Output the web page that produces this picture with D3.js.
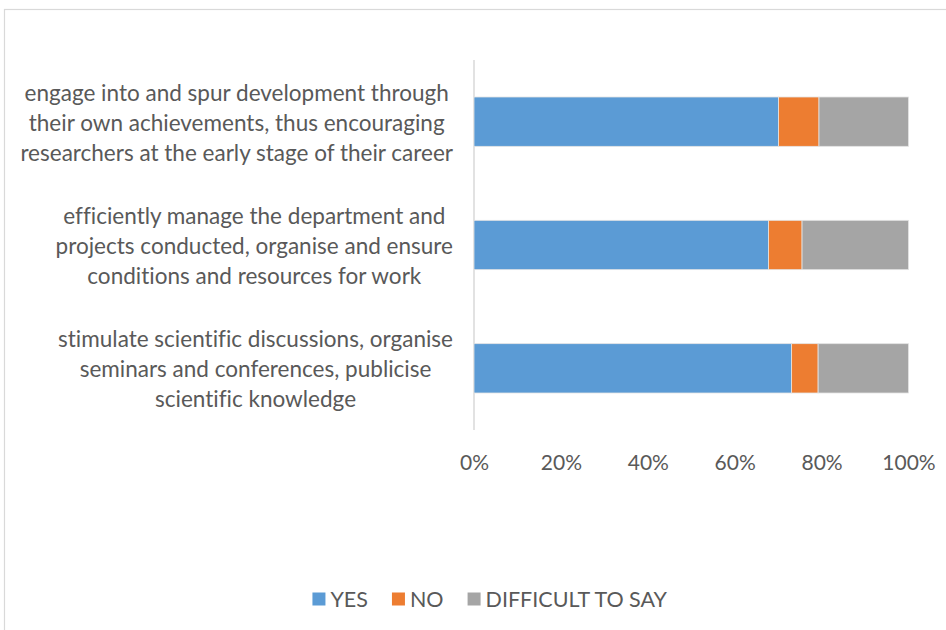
<!DOCTYPE html>
<html>
<head>
<meta charset="utf-8">
<script src="https://cdn.jsdelivr.net/npm/d3@7"></script>
<style>
  html, body { margin: 0; padding: 0; background: #fff; }
  svg { display: block; }
  text { font-family: Lato, "Open Sans", sans-serif; fill: #595959; font-variant-ligatures: none; }
</style>
</head>
<body>
<svg id="chart" width="946" height="630"></svg>
<script>
// Survey statements (top to bottom), each split into its display lines
const categories = [
  ["engage into and spur development through", "their own achievements, thus encouraging", "researchers at the early stage of their career"],
  ["efficiently manage the department and", "projects conducted, organise and ensure", "conditions and resources for work"],
  ["stimulate scientific discussions, organise", "seminars and conferences, publicise", "scientific knowledge"]
];
const seriesNames = ["YES", "NO", "DIFFICULT TO SAY"];
const yesValues = [70.1, 67.8, 73.1];
const noValues = [9.3, 7.7, 6.1];
const difficultValues = [20.6, 24.5, 20.8];
const tickValues = [0, 20, 40, 60, 80, 100];
const colors = ["#5B9BD5", "#ED7D31", "#A5A5A5"];

const svg = d3.select("#chart");
const W = 946, H = 630;

// chart area frame
svg.append("rect")
  .attr("x", 4.5).attr("y", 9.5)
  .attr("width", W + 10).attr("height", H + 10)
  .attr("fill", "none").attr("stroke", "#D9D9D9").attr("stroke-width", 1.2);

const plot = { left: 474, right: 908.5, top: 60, bottom: 430 };

const x = d3.scaleLinear().domain([0, 100]).range([plot.left, plot.right]);
const y = d3.scaleBand()
  .domain(d3.range(categories.length))
  .range([plot.top, plot.bottom])
  .paddingInner(0.6).paddingOuter(0.3);

// stacked table
const rows = categories.map((c, i) => ({
  idx: i, YES: yesValues[i], NO: noValues[i], "DIFFICULT TO SAY": difficultValues[i]
}));
const stacked = d3.stack().keys(seriesNames)(rows);

// vertical category axis line
svg.append("line")
  .attr("x1", plot.left).attr("x2", plot.left)
  .attr("y1", plot.top).attr("y2", plot.bottom)
  .attr("stroke", "#D9D9D9").attr("stroke-width", 1.5);

svg.append("g").selectAll("g")
  .data(stacked)
  .join("g")
  .attr("fill", (d, i) => colors[i])
  .selectAll("rect")
  .data(d => d)
  .join("rect")
  .attr("x", d => x(d[0]))
  .attr("width", d => x(d[1]) - x(d[0]))
  .attr("y", d => y(d.data.idx))
  .attr("height", y.bandwidth())
  .attr("stroke", "#E4E4E4")
  .attr("stroke-width", 0.8);

// percentage axis labels
const xAxis = d3.axisBottom(x)
  .tickValues(tickValues)
  .tickFormat(d => d + "%")
  .tickSize(0)
  .tickPadding(0);
const gx = svg.append("g")
  .attr("transform", `translate(0,${plot.bottom})`)
  .call(xAxis);
gx.select(".domain").remove();
gx.selectAll("text")
  .attr("y", 33)
  .attr("dy", "0.35em")
  .style("font-family", "Lato, 'Open Sans', sans-serif")
  .style("font-size", "21px")
  .attr("fill", "#595959");

// category labels: centred lines, block right-aligned beside the axis
const labelRight = 453;
const labelLeftMost = 20;
const lineGap = 30;
const gl = svg.append("g").style("font-size", "20px");
const labelGroups = categories.map((lines, i) => {
  const cy = y(i) + y.bandwidth() / 2 + 1;
  const texts = gl.append("g").selectAll("text")
    .data(lines)
    .join("text")
    .attr("text-anchor", "middle")
    .attr("dy", "0.35em")
    .attr("y", (d, j) => cy + (j - (lines.length - 1) / 2) * lineGap)
    .text(d => d);
  return texts;
});
// size the label font so the widest line spans the available space
let widest = 0;
gl.selectAll("text").each(function () { widest = Math.max(widest, this.getComputedTextLength()); });
gl.style("font-size", (20 * (labelRight - labelLeftMost) / widest) + "px");
labelGroups.forEach(texts => {
  let maxW = 0;
  texts.each(function () { maxW = Math.max(maxW, this.getComputedTextLength()); });
  texts.attr("x", labelRight - maxW / 2);
});

// legend
const legend = svg.append("g").style("font-size", "21.5px");
const items = legend.selectAll("g")
  .data(seriesNames)
  .join("g");
items.append("rect")
  .attr("width", 13).attr("height", 13)
  .attr("y", -6.5)
  .attr("fill", (d, i) => colors[i]);
items.append("text")
  .attr("x", 18)
  .attr("dy", "0.35em")
  .text(d => d);
let cursor = 0;
items.each(function () {
  d3.select(this).attr("transform", `translate(${cursor},599)`);
  cursor += this.getBBox().width + 24;
});
const legendW = cursor - 24;
legend.attr("transform", `translate(${490 - legendW / 2},0)`);
</script>
</body>
</html>
